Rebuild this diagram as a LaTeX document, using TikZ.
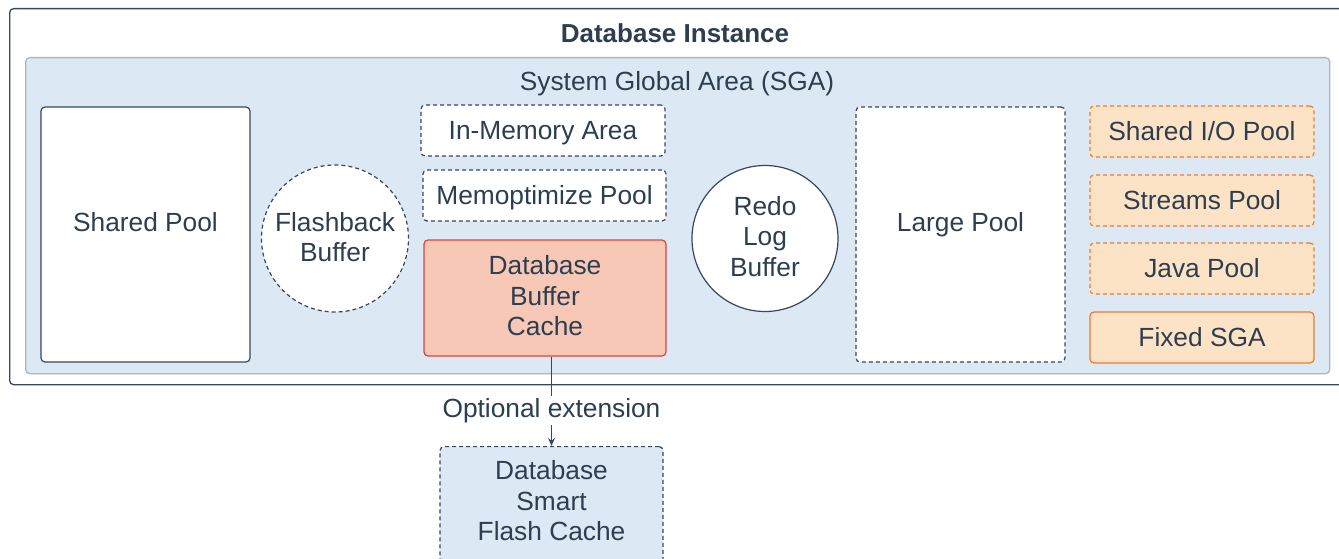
\documentclass[tikz,border=0pt]{standalone}
\usepackage{fontspec}
\setmainfont{Liberation Sans}
\usetikzlibrary{arrows.meta}
\definecolor{ink}{HTML}{2C3E50}
\definecolor{edge}{HTML}{34495E}
\definecolor{sgafill}{HTML}{DCE8F4}
\definecolor{sgaedge}{HTML}{A9B6C6}
\definecolor{cachefill}{HTML}{F6C8B5}
\definecolor{cacheedge}{HTML}{E2413A}
\definecolor{orfill}{HTML}{FDE3C6}
\definecolor{oredge}{HTML}{F07A2A}
\begin{document}
\begin{tikzpicture}[x=1pt,y=-1pt,
  every node/.style={font=\fontsize{26.3}{30.5}\selectfont, text=ink, align=center},
  box/.style={draw=edge, line width=1.2pt, rounded corners=4pt, fill=white, inner sep=0pt},
  dbox/.style={box, dash pattern=on 4pt off 3pt},
  circ/.style={circle, draw=edge, line width=1.2pt, fill=white, inner sep=0pt},
  obox/.style={draw=oredge, line width=1.2pt, rounded corners=4pt, fill=orfill, inner sep=0pt, minimum width=224pt, minimum height=51pt},
  lbl/.style={inner sep=0pt}
]
\clip (0,0) rectangle (1339,559);
\fill[white] (0,0) rectangle (1339,559);
% outer instance
\node[box, line width=1.3pt, minimum width=1340pt, minimum height=376pt, anchor=north west] (inst) at (9,8) {};
\node[lbl, font=\fontsize{26}{30.5}\selectfont\bfseries] (insttitle) at (675,33) {Database Instance};
% SGA
\node[draw=sgaedge, line width=1.3pt, rounded corners=4pt, fill=sgafill, minimum width=1304pt, minimum height=316pt, anchor=north west, inner sep=0pt] (sga) at (25,57) {};
\node[lbl] (sgatitle) at (677,84) {System Global Area (SGA)};
% Shared pool
\node[box, minimum width=209pt, minimum height=255pt] (shared) at (145.5,234.5) {};
\node[lbl] (sharedt) at (145.5,222) {Shared Pool};
% Flashback buffer
\node[circ, dash pattern=on 4pt off 3pt, minimum size=147pt] (flash) at (335,238.5) {};
\node[lbl] (flasht) at (335,237) {Flashback\\Buffer};
% In-memory / memoptimize
\node[dbox, minimum width=244pt, minimum height=51pt] (inmem) at (543,130.5) {};
\node[lbl] (inmemt) at (543,133.5) {In-Memory Area};
\node[dbox, minimum width=243pt, minimum height=51pt] (memopt) at (544.5,195.5) {};
\node[lbl] (memoptt) at (544.5,197.5) {Memoptimize Pool};
% Buffer cache
\node[draw=cacheedge, line width=1.2pt, rounded corners=4pt, fill=cachefill, minimum width=242pt, minimum height=116pt, inner sep=0pt] (cache) at (545,298) {};
\node[lbl] (cachet) at (545,296) {Database\\Buffer\\Cache};
% Redo
\node[circ, minimum size=146pt] (redo) at (765,238.5) {};
\node[lbl] (redot) at (765,236.5) {Redo\\Log\\Buffer};
% Large pool
\node[dbox, minimum width=209pt, minimum height=255pt] (large) at (960.5,234.5) {};
\node[lbl] (larget) at (960.5,225) {Large Pool};
% Orange pools
\node[obox, dash pattern=on 4pt off 3pt] (sio) at (1202,131.5) {Shared I/O Pool};
\node[obox, dash pattern=on 4pt off 3pt] (streams) at (1202,200.5) {Streams Pool};
\node[obox, dash pattern=on 4pt off 3pt] (java) at (1202,268.5) {Java Pool};
\node[obox] (fixed) at (1202,337.5) {Fixed SGA};
% Flash cache
\node[dbox, fill=sgafill, minimum width=223pt, minimum height=126pt, anchor=north] (fcache) at (551.5,446) {};
\node[lbl] (fcachet) at (551.5,501) {Database\\Smart\\Flash Cache};
% connector
\draw[edge, line width=1.2pt, -{Stealth[length=8pt,width=7pt]}] (cache.south -| fcache.north) -- node[pos=0.6, fill=white, inner sep=2pt] (opt) {Optional extension} (fcache.north);
\end{tikzpicture}
\end{document}
